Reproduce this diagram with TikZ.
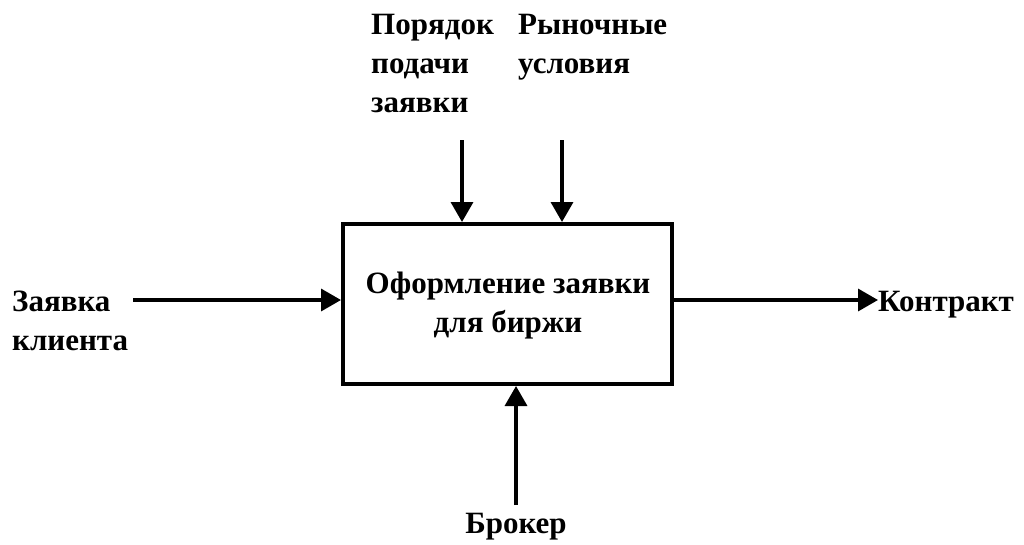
\documentclass[tikz,border=0pt]{standalone}
\usepackage{fontspec}
\setmainfont{Liberation Serif}
\usetikzlibrary{arrows.meta}
\begin{document}
\begin{tikzpicture}[x=1pt,y=-1pt,
  lbl/.style={font=\bfseries\fontsize{31}{39}\selectfont, inner sep=0pt},
  conn/.style={line width=3.5pt, -{Triangle[length=20pt,width=22pt]}},
  func/.style={draw, line width=4pt, minimum width=329pt, minimum height=160pt, inner sep=0pt}]
\useasboundingbox (0,0) rectangle (1024,544);
\node[func] (box) at (507.5,304) {};
\node[lbl, align=center] (boxt) at (508,306) {Оформление заявки\\для биржи};
\node[lbl, align=left, anchor=north west] (ctl1) at (371,14) {Порядок\\подачи\\заявки};
\node[lbl, align=left, anchor=north west] (ctl2) at (518,14) {Рыночные\\условия};
\node[lbl, align=left, anchor=north west] (inp) at (12,291) {Заявка\\клиента};
\node[lbl, anchor=west] (out) at (878,305) {Контракт};
\node[lbl, anchor=north] (mech) at (516,513) {Брокер};
\coordinate (c1s) at (462,140);
\coordinate (c2s) at (562,140);
\coordinate (is) at (133,300);
\coordinate (ms) at (516,505);
\draw[conn] (c1s) -- (c1s |- box.north);
\draw[conn] (c2s) -- (c2s |- box.north);
\draw[conn] (is) -- (box.west |- is);
\draw[conn] (box.east |- is) -- (out.west |- is);
\draw[conn] (ms) -- (ms |- box.south);
\end{tikzpicture}
\end{document}
